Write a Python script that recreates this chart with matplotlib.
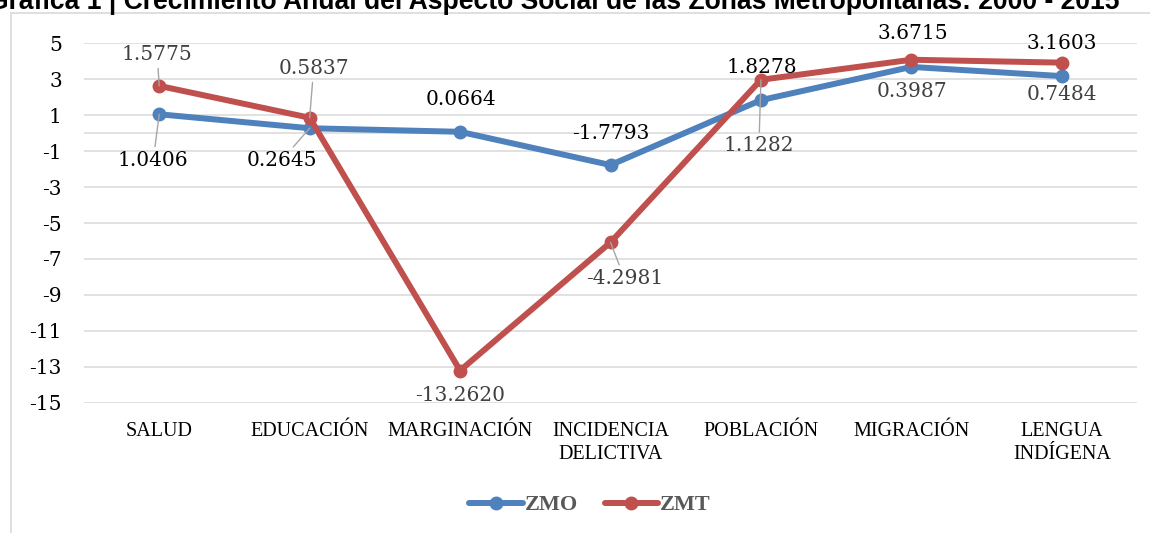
import matplotlib
matplotlib.use("Agg")
import matplotlib.pyplot as plt
from matplotlib import font_manager as fm
from matplotlib.patches import Rectangle
import numpy as np

plt.rcParams['axes.unicode_minus'] = False

# data
categorias = ['SALUD', 'EDUCACIÓN', 'MARGINACIÓN', 'INCIDENCIA\nDELICTIVA',
              'POBLACIÓN', 'MIGRACIÓN', 'LENGUA\nINDÍGENA']
zmo = [1.0406, 0.2645, 0.0664, -1.7793, 1.8278, 3.6715, 3.1603]
zmt = [1.5775, 0.5837, -13.2620, -4.2981, 1.1282, 0.3987, 0.7484]

# label offsets in pixels (dx, dy) and whether a leader line is drawn
off_zmo = [(-6, -46), (-28, -32), (1, 32), (0, 32), (1, 33), (1, 33), (0, 33)]
lead_zmo = [True, True, False, False, False, False, False]
off_zmt = [(-2, 31), (4, 49), (0, -25), (14, -36), (-2, -66), (1, -32), (0, -32)]
lead_zmt = [True, True, False, True, True, False, False]

azul = '#4F81BD'
rojo = '#C0504D'
gris_grid = '#D9D9D9'

nombres = {f.name for f in fm.fontManager.ttflist}
cond = 'DejaVu Serif Condensed' if 'DejaVu Serif Condensed' in nombres else 'Liberation Serif'

x = np.arange(len(categorias))
y_zmo = np.array(zmo)
y_zmt = y_zmo + np.array(zmt)  # stacked line

fig = plt.figure(figsize=(11.5, 5.33), dpi=100)
ax = fig.add_axes([84 / 1150, 130 / 533, 1053 / 1150, 360 / 533])

# chart border (partially visible crop)
fig.patches.append(Rectangle((10.5 / 1150, -0.2), 1.2, 1.2 - 13 / 533,
                             transform=fig.transFigure, fill=False,
                             edgecolor=gris_grid, lw=1.2))

# title, cut at the top edge as in the source image
fig.text(-12 / 1150, 1 - 9 / 533,
         'Gráfica 1 | Crecimiento Anual del Aspecto Social de las Zonas Metropolitanas: 2000 - 2015',
         fontsize=19.1, fontweight='bold', family='Liberation Sans',
         ha='left', va='baseline')

ax.plot(x, y_zmo, color=azul, lw=4.3, marker='o', ms=9, label='ZMO',
        solid_capstyle='round', zorder=4)
ax.plot(x, y_zmt, color=rojo, lw=4.3, marker='o', ms=9, label='ZMT',
        solid_capstyle='round', zorder=5)

ax.set_xlim(-0.5, len(categorias) - 0.5)
ax.set_ylim(-15, 5)
ax.set_yticks(np.arange(-15, 6, 2))
ax.grid(axis='y', color=gris_grid, lw=1.1, zorder=0)
ax.axhline(0, color=gris_grid, lw=1.1, zorder=1)
for s in ax.spines.values():
    s.set_visible(False)

ax.set_xticks(x)
ax.set_xticklabels(categorias, family=cond, fontsize=14.5, linespacing=1.25)
ax.tick_params(axis='x', length=0, pad=14)
ax.tick_params(axis='y', length=0, pad=16)
for t in ax.get_yticklabels():
    t.set_family('DejaVu Serif')
    t.set_fontsize(14.5)

def etiquetas(vals, ys, offs, leads, color):
    for i, (v, yy, o, ld) in enumerate(zip(vals, ys, offs, leads)):
        ap = dict(arrowstyle='-', color='#A6A6A6', lw=1, shrinkA=1, shrinkB=0) if ld else None
        ax.annotate(f'{v:.4f}', xy=(x[i], yy), xytext=o, textcoords='offset pixels',
                    ha='center', va='center', fontsize=14.5, family='DejaVu Serif',
                    color=color, arrowprops=ap, zorder=6)

etiquetas(zmo, y_zmo, off_zmo, lead_zmo, '#000000')
etiquetas(zmt, y_zmt, off_zmt, lead_zmt, '#404040')

leg = fig.legend(loc='center', bbox_to_anchor=(590 / 1150, 1 - 505 / 533), ncol=2,
                 frameon=False, handlelength=2.4, columnspacing=1.2, handletextpad=0.1,
                 prop={'family': cond, 'weight': 'bold', 'size': 16})
for t in leg.get_texts():
    t.set_color('#595959')

fig.savefig('out.png', dpi=100)
